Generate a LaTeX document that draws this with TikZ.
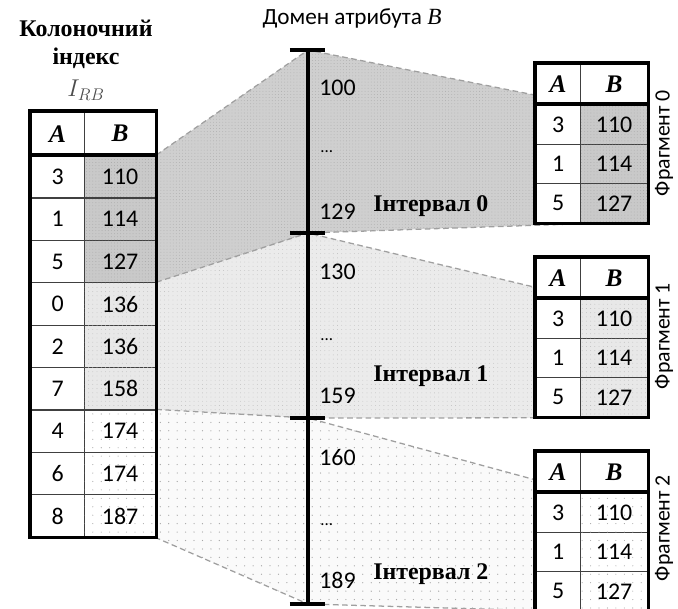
\documentclass[tikz,border=0pt]{standalone}
\usepackage{fontspec}
\setmainfont{Liberation Serif}
\newfontfamily\numfont{Carlito}
\usetikzlibrary{patterns.meta}
\pgfdeclarelayer{background}
\pgfsetlayers{background,main}

\newcommand{\nsz}{\fontsize{17}{20}\selectfont}

% one fragment table: name, top edge, shade of column B
\newcommand{\fragtable}[3]{%
   \node[fcellA,hcell] (#1-ah) at (535,#2) {A};
   \node[fcellB,hcell] (#1-bh) at (580,#2) {B};
   \node[fcellA,rcell] (#1-a1) at (535,{#2+41}) {3};
   \node[fcellB,rcell,#3] (#1-b1) at (580,{#2+41}) {110};
   \node[fcellA,rcell] (#1-a2) at (535,{#2+80.5}) {1};
   \node[fcellB,rcell,#3] (#1-b2) at (580,{#2+80.5}) {114};
   \node[fcellA,rcell] (#1-a3) at (535,{#2+120}) {5};
   \node[fcellB,rcell,#3] (#1-b3) at (580,{#2+120}) {127};
   \draw[frame] (#1-ah.north west) rectangle (#1-b3.south east);
   \draw[frame] (#1-a1.north west) -- (#1-b1.north east);
}

\tikzset{
   cell/.style={draw=black!75, line width=0.9pt, inner sep=0pt, anchor=north west,
                font=\numfont\nsz, fill=white},
   cellA/.style={cell, minimum width=1.35cm, minimum height=1.06cm},
   cellB/.style={cell, minimum width=1.775cm, minimum height=1.06cm},
   fcellA/.style={cell, minimum width=1.125cm},
   fcellB/.style={cell, minimum width=1.675cm},
   hcell/.style={minimum height=1.025cm, font=\fontsize{18}{20}\selectfont\bfseries\itshape},
   rcell/.style={minimum height=0.9875cm},
   frame/.style={line width=2.2pt, line cap=rect},
   sha/.style={fill=gray!42, postaction={pattern={Dots[distance=2.2pt,radius=0.3pt]}, pattern color=gray!70}},
   shb/.style={fill=gray!18, postaction={pattern={Dots[distance=3pt,radius=0.3pt]}, pattern color=gray!55}},
   shc/.style={fill=white, postaction={pattern={Dots[distance=6pt,radius=0.4pt]}, pattern color=gray!70}},
   border/.style={draw=gray!75, line width=0.9pt, dash pattern=on 4pt off 2.5pt},
   num/.style={anchor=west, font=\numfont\nsz, inner sep=0pt},
   dots/.style={anchor=west, font=\numfont\fontsize{12}{14}\selectfont, inner sep=0pt},
   ival/.style={anchor=west, font=\nsz\bfseries, inner sep=0pt},
   frag/.style={rotate=90, font=\numfont\fontsize{15.5}{18}\selectfont, inner sep=0pt},
}

\begin{document}
\begin{tikzpicture}[x=0.025cm,y=-0.025cm]
   \useasboundingbox (0,0) rectangle (678,608);

   % axis tick points
   \coordinate (t0) at (308,50);
   \coordinate (t1) at (308,233);
   \coordinate (t2) at (308,418);
   \coordinate (t3) at (308,604);

   % column index I_RB
   \node[cellA,hcell,minimum height=1.1cm] (l-ah) at (30,111) {A};
   \node[cellB,hcell,minimum height=1.1cm] (l-bh) at (84,111) {B};
   \foreach \a/\b/\sh [count=\i] in {3/110/sha,1/114/sha,5/127/sha,0/136/shb,2/136/shb,
                                     7/158/shb,4/174/shc,6/174/shc,8/187/shc}{
      \node[cellA] (l-a\i) at (30,{155+42.4*(\i-1)}) {\a};
      \node[cellB,\sh] (l-b\i) at (84,{155+42.4*(\i-1)}) {\b};
   }
   \draw[frame] (l-ah.north west) rectangle (l-b9.south east);
   \draw[frame] (l-a1.north west) -- (l-b1.north east);

   % fragments
   \fragtable{f0}{63}{sha}
   \fragtable{f1}{257}{shb}
   \fragtable{f2}{451}{shc}

   % intervals mapped onto the fragments
   \begin{pgfonlayer}{background}
   \path[border, fill=gray!38, postaction={pattern={Dots[distance=2.2pt,radius=0.3pt]}, pattern color=gray!65}]
      (l-b1.north east) -- (t0) -- (f0-b1.north west) -- (f0-b3.south west) -- (t1) -- (l-b3.south east) -- cycle;
   \path[border, fill=gray!16, postaction={pattern={Dots[distance=3pt,radius=0.3pt]}, pattern color=gray!50}]
      (l-b4.north east) -- (t1) -- (f1-b1.north west) -- (f1-b3.south west) -- (t2) -- (l-b6.south east) -- cycle;
   \path[border, fill=gray!4, postaction={pattern={Dots[distance=6pt,radius=0.45pt]}, pattern color=gray!70}]
      (l-b7.north east) -- (t2) -- (f2-b1.north west) -- (f2-b3.south west) -- (t3) -- (l-b9.south east) -- cycle;
   \end{pgfonlayer}

   % domain axis
   \draw[line width=2.2pt] (t0) -- (t3);
   \draw[line width=2.8pt] ([xshift=-0.45cm]t0) -- ([xshift=0.43cm]t0);
   \draw[line width=2.8pt] ([xshift=-0.45cm]t1) -- ([xshift=0.43cm]t1);
   \draw[line width=2.8pt] ([xshift=-0.45cm]t2) -- ([xshift=0.43cm]t2);
   \draw[line width=2.8pt] ([xshift=-0.45cm]t3) -- ([xshift=0.43cm]t3);

   % headings
   \node[font=\nsz\bfseries] (title1) at (86,28) {Колоночний};
   \node[font=\nsz\bfseries] (title2) at (86,58) {індекс};
   \node[font=\fontsize{17}{20}\selectfont, text=black!70] (title3) at (86,90) {$I_{RB}$};
   \node[font=\numfont\fontsize{16.5}{20}\selectfont] (domain) at (352,18) {Домен атрибута \textit{\rmfamily B}};

   % domain values
   \node[num] (v100) at (319,88) {100};
   \node[dots] (d0) at (320,152) {...};
   \node[num] (v129) at (319,212) {129};
   \node[num] (v130) at (319,272) {130};
   \node[dots] (d1) at (320,340) {...};
   \node[num] (v159) at (319,396) {159};
   \node[num] (v160) at (319,458) {160};
   \node[dots] (d2) at (320,525) {...};
   \node[num] (v189) at (319,580) {189};

   \node[ival] (i0) at (373,206) {Інтервал 0};
   \node[ival] (i1) at (373,376) {Інтервал 1};
   \node[ival] (i2) at (373,574) {Інтервал 2};

   \node[frag] (g0) at (664,143) {Фрагмент 0};
   \node[frag] (g1) at (664,336) {Фрагмент 1};
   \node[frag] (g2) at (664,528) {Фрагмент 2};
\end{tikzpicture}
\end{document}
